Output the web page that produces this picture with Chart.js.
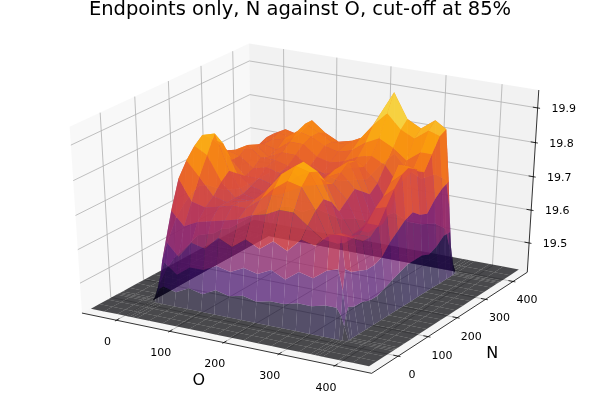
<!DOCTYPE html>
<html><head><meta charset="utf-8">
<script src="https://cdn.jsdelivr.net/npm/chart.js@4.4.1/dist/chart.umd.min.js"></script>
<style>html,body{margin:0;padding:0;background:#fff}#wrap{width:600px;height:400px;position:relative}</style>
</head><body><div id="wrap"><canvas id="c"></canvas></div>
<script>
const TITLE = 'Endpoints only, N against O, cut-off at 85%';
const X_LABEL = 'O';
const Y_LABEL = 'N';
const O_TICKS = [0, 100, 200, 300, 400];
const N_TICKS = [0, 100, 200, 300, 400];
const Z_TICKS = [19.5, 19.6, 19.7, 19.8, 19.9];

// grid positions (O = x, N = y)
const O_VALUES = [-55, -30, -5, 10, 18, 24, 32, 55, 80, 105, 130, 155, 180, 205, 230, 255, 280, 305, 330, 350, 358, 364, 372, 400, 425, 454];
const N_VALUES = [-75, -50, -25, 2, 8, 13, 20, 40, 65, 90, 115, 140, 165, 190, 215, 240, 265, 290, 315, 340, 362, 368, 373, 380, 410, 442];
const F = 19.42; // cut-off floor value
// Z_ROWS[j][i] : value at N_VALUES[j], O_VALUES[i]
const Z_ROWS = [
  [F,F,F,F, F,F, F,F,F,F,F,F,F,F,F,F,F,F,F,F, F,F, F,F,F,F],
  [F,F,F,F, F,F, F,F,F,F,F,F,F,F,F,F,F,F,F,F, F,F, F,F,F,F],
  [F,F,F,F, F,F, F,F,F,F,F,F,F,F,F,F,F,F,F,F, F,F, F,F,F,F],
  [F,F,F,F, F,F, F,F,F,F,F,F,F,F,F,F,F,F,F,F, F,F, F,F,F,F],
  [F,F,F,F, 19.44,19.46, 19.47,19.46,19.48,19.47,19.49,19.48,19.49,19.48,19.49,19.49,19.50,19.50,19.51,19.51, 19.49,19.46, F,F,F,F],
  [F,F,F,F, 19.46,19.50, 19.54,19.51,19.54,19.54,19.56,19.55,19.57,19.56,19.58,19.56,19.59,19.58,19.61,19.62, 19.56,19.49, F,F,F,F],
  [F,F,F,F, 19.47,19.54, 19.60,19.56,19.61,19.60,19.64,19.62,19.65,19.63,19.66,19.64,19.68,19.67,19.71,19.72, 19.62,19.51, F,F,F,F],
  [F,F,F,F, 19.50,19.59, 19.68,19.64,19.66,19.67,19.68,19.69,19.71,19.72,19.74,19.74,19.71,19.68,19.70,19.70, 19.60,19.50, F,F,F,F],
  [F,F,F,F, 19.52,19.64, 19.76,19.70,19.69,19.70,19.71,19.71,19.74,19.78,19.81,19.80,19.74,19.66,19.69,19.68, 19.59,19.50, F,F,F,F],
  [F,F,F,F, 19.53,19.67, 19.80,19.76,19.71,19.70,19.71,19.72,19.76,19.81,19.84,19.83,19.76,19.64,19.67,19.66, 19.58,19.49, F,F,F,F],
  [F,F,F,F, 19.54,19.69, 19.83,19.81,19.74,19.70,19.70,19.72,19.76,19.81,19.84,19.82,19.74,19.63,19.66,19.66, 19.58,19.49, F,F,F,F],
  [F,F,F,F, 19.55,19.70, 19.85,19.86,19.76,19.70,19.69,19.71,19.74,19.78,19.80,19.78,19.70,19.64,19.68,19.68, 19.59,19.50, F,F,F,F],
  [F,F,F,F, 19.54,19.69, 19.83,19.82,19.74,19.71,19.70,19.70,19.72,19.74,19.75,19.76,19.72,19.64,19.71,19.72, 19.62,19.51, F,F,F,F],
  [F,F,F,F, 19.53,19.67, 19.80,19.76,19.72,19.72,19.71,19.70,19.72,19.74,19.76,19.78,19.74,19.62,19.73,19.76, 19.64,19.52, F,F,F,F],
  [F,F,F,F, 19.53,19.65, 19.77,19.76,19.73,19.74,19.73,19.72,19.72,19.73,19.77,19.80,19.72,19.62,19.76,19.79, 19.66,19.53, F,F,F,F],
  [F,F,F,F, 19.52,19.64, 19.76,19.78,19.75,19.75,19.74,19.72,19.71,19.72,19.77,19.79,19.70,19.62,19.80,19.80, 19.67,19.53, F,F,F,F],
  [F,F,F,F, 19.52,19.63, 19.75,19.77,19.74,19.76,19.76,19.73,19.72,19.73,19.75,19.76,19.72,19.65,19.78,19.78, 19.65,19.53, F,F,F,F],
  [F,F,F,F, 19.52,19.63, 19.74,19.76,19.75,19.78,19.78,19.75,19.74,19.75,19.77,19.78,19.76,19.71,19.76,19.76, 19.64,19.52, F,F,F,F],
  [F,F,F,F, 19.52,19.63, 19.74,19.76,19.77,19.80,19.79,19.77,19.76,19.77,19.80,19.82,19.80,19.77,19.80,19.80, 19.67,19.53, F,F,F,F],
  [F,F,F,F, 19.52,19.63, 19.75,19.77,19.76,19.81,19.79,19.77,19.77,19.79,19.84,19.88,19.84,19.82,19.85,19.84, 19.69,19.55, F,F,F,F],
  [F,F,F,F, 19.52,19.63, 19.75,19.77,19.76,19.81,19.78,19.76,19.77,19.79,19.86,19.93,19.86,19.84,19.87,19.85, 19.70,19.55, F,F,F,F],
  [F,F,F,F, 19.48,19.56, 19.63,19.65,19.64,19.67,19.65,19.64,19.65,19.66,19.71,19.75,19.71,19.69,19.71,19.70, 19.62,19.50, F,F,F,F],
  [F,F,F,F, 19.45,19.48, 19.52,19.53,19.52,19.54,19.53,19.52,19.53,19.53,19.55,19.57,19.55,19.55,19.56,19.55, 19.50,19.46, F,F,F,F],
  [F,F,F,F, F,F, F,F,F,F,F,F,F,F,F,F,F,F,F,F, F,F, F,F,F,F],
  [F,F,F,F, F,F, F,F,F,F,F,F,F,F,F,F,F,F,F,F, F,F, F,F,F,F],
  [F,F,F,F, F,F, F,F,F,F,F,F,F,F,F,F,F,F,F,F, F,F, F,F,F,F]
];

const X_LIM = [-55, 454];
const Y_LIM = [-75, 442];
const Z_LIM = [19.42, 19.94];

// ---- view (matplotlib-like: elev 30, azim -60, perspective) ----
const EL = 30 * Math.PI / 180, AZ = -60 * Math.PI / 180, DIST = 10;
const E = [Math.cos(EL) * Math.cos(AZ), Math.cos(EL) * Math.sin(AZ), Math.sin(EL)];
const un = Math.hypot(E[0], E[1]);
const U = [-E[1] / un, E[0] / un, 0];
const V = [E[1] * U[2] - E[2] * U[1], E[2] * U[0] - E[0] * U[2], E[0] * U[1] - E[1] * U[0]];
function dot(a, b) { return a[0] * b[0] + a[1] * b[1] + a[2] * b[2]; }
function project(x, y, z) {
  const b = [(x - X_LIM[0]) / (X_LIM[1] - X_LIM[0]) - 0.5,
             (y - Y_LIM[0]) / (Y_LIM[1] - Y_LIM[0]) - 0.5,
             (z - Z_LIM[0]) / (Z_LIM[1] - Z_LIM[0]) - 0.5];
  const u = dot(U, b), v = dot(V, b), w = dot(E, b);
  return { x: u / (DIST - w), y: v / (DIST - w), w: w };
}
const dX = (X_LIM[1] - X_LIM[0]), dY = (Y_LIM[1] - Y_LIM[0]), dZ = (Z_LIM[1] - Z_LIM[0]);
const XB = [X_LIM[0] - dX / 48, X_LIM[1] + dX / 48];
const YB = [Y_LIM[0] - dY / 48, Y_LIM[1] + dY / 48];
const ZB = [Z_LIM[0] - dZ / 48, Z_LIM[1] + dZ / 48];

// ---- colormap (inferno) ----
const INFERNO = ['#000004','#160b39','#420a68','#6a176e','#932667','#bc3754','#dd513a','#f37819','#fca50a','#f6d746','#fcffa4'];
function hex(c) { return [parseInt(c.substr(1,2),16), parseInt(c.substr(3,2),16), parseInt(c.substr(5,2),16)]; }
const INF_RGB = INFERNO.map(hex);
function inferno(t, a) {
  t = Math.max(0, Math.min(1, t));
  const s = t * (INF_RGB.length - 1), i = Math.min(INF_RGB.length - 2, Math.floor(s)), f = s - i;
  const c0 = INF_RGB[i], c1 = INF_RGB[i + 1];
  return 'rgba(' + Math.round(c0[0] + (c1[0] - c0[0]) * f) + ',' + Math.round(c0[1] + (c1[1] - c0[1]) * f) + ',' + Math.round(c0[2] + (c1[2] - c0[2]) * f) + ',' + a + ')';
}
function surfAlpha(t) { return t < 0.3 ? 0.7 : (t > 0.55 ? 0.92 : 0.7 + (t - 0.3) / 0.25 * 0.22); }

// ---- line datasets: gridlines, axis lines, tick marks ----
const GRID_COLOR = '#b0b0b0';
const datasets = [];
function lineDS(pts, color, width) {
  datasets.push({ data: pts.map(p => { const q = project(p[0], p[1], p[2]); return { x: q.x, y: q.y }; }),
    showLine: true, borderColor: color, borderWidth: width, pointRadius: 0, pointHoverRadius: 0, fill: false, tension: 0 });
}
lineDS([[XB[0], YB[0], ZB[0]], [XB[1], YB[0], ZB[0]]], '#000', 0.8);
lineDS([[XB[1], YB[0], ZB[0]], [XB[1], YB[1], ZB[0]]], '#000', 0.8);
lineDS([[XB[1], YB[1], ZB[0]], [XB[1], YB[1], ZB[1]]], '#000', 0.8);
O_TICKS.forEach(t => lineDS([[t, YB[0] + 0.2 * dY / 12, ZB[0]], [t, YB[0] - 0.1 * dY / 12, ZB[0]]], '#000', 0.8));
N_TICKS.forEach(t => lineDS([[XB[1] - 0.2 * dX / 12, t, ZB[0]], [XB[1] + 0.1 * dX / 12, t, ZB[0]]], '#000', 0.8));
Z_TICKS.forEach(t => lineDS([[XB[1] - 0.2 * dX / 12, YB[1], t], [XB[1] + 0.1 * dX / 12, YB[1], t]], '#000', 0.8));
O_TICKS.forEach(t => lineDS([[t, YB[0], ZB[0]], [t, YB[1], ZB[0]], [t, YB[1], ZB[1]]], GRID_COLOR, 0.8));
N_TICKS.forEach(t => lineDS([[XB[1], t, ZB[0]], [XB[0], t, ZB[0]], [XB[0], t, ZB[1]]], GRID_COLOR, 0.8));
Z_TICKS.forEach(t => lineDS([[XB[0], YB[0], t], [XB[0], YB[1], t], [XB[1], YB[1], t]], GRID_COLOR, 0.8));

// ---- surface quads ----
const zMin = Math.min(...Z_ROWS.map(r => Math.min(...r)));
const zMax = Math.max(...Z_ROWS.map(r => Math.max(...r)));
const quads = [];
for (let j = 0; j < N_VALUES.length - 1; j++) {
  for (let i = 0; i < O_VALUES.length - 1; i++) {
    const c = [[O_VALUES[i], N_VALUES[j], Z_ROWS[j][i]], [O_VALUES[i + 1], N_VALUES[j], Z_ROWS[j][i + 1]],
               [O_VALUES[i + 1], N_VALUES[j + 1], Z_ROWS[j + 1][i + 1]], [O_VALUES[i], N_VALUES[j + 1], Z_ROWS[j + 1][i]]];
    const p = c.map(v => project(v[0], v[1], v[2]));
    const zAvg = (c[0][2] + c[1][2] + c[2][2] + c[3][2]) / 4;
    const t = (zAvg - zMin) / (zMax - zMin);
    const depth = (p[0].w + p[1].w + p[2].w + p[3].w) / 4;
    quads.push({ p, color: inferno(t, surfAlpha(t)), depth });
  }
}
quads.sort((a, b) => a.depth - b.depth);

const panes = [
  { c: [[XB[0], YB[0], ZB[0]], [XB[0], YB[1], ZB[0]], [XB[0], YB[1], ZB[1]], [XB[0], YB[0], ZB[1]]], color: 'rgba(242,242,242,0.5)' },
  { c: [[XB[0], YB[1], ZB[0]], [XB[1], YB[1], ZB[0]], [XB[1], YB[1], ZB[1]], [XB[0], YB[1], ZB[1]]], color: 'rgba(230,230,230,0.5)' },
  { c: [[XB[0], YB[0], ZB[0]], [XB[1], YB[0], ZB[0]], [XB[1], YB[1], ZB[0]], [XB[0], YB[1], ZB[0]]], color: 'rgba(236,236,236,0.5)' }
];

function px(chart, q) { return [chart.scales.x.getPixelForValue(q.x), chart.scales.y.getPixelForValue(q.y)]; }
function poly(ctx, chart, pts, color) {
  ctx.beginPath();
  pts.forEach((q, k) => { const a = px(chart, q); if (k) ctx.lineTo(a[0], a[1]); else ctx.moveTo(a[0], a[1]); });
  ctx.closePath();
  ctx.fillStyle = color;
  ctx.fill();
}
function text(ctx, s, x, y, size) {
  ctx.font = size + 'px "DejaVu Sans"';
  ctx.fillStyle = '#000';
  ctx.textAlign = 'center';
  ctx.textBaseline = 'middle';
  ctx.fillText(s, x, y);
}

const surfacePlugin = {
  id: 'surface3d',
  beforeDatasetsDraw(chart) {
    const ctx = chart.ctx;
    ctx.save();
    panes.forEach(pn => poly(ctx, chart, pn.c.map(v => project(v[0], v[1], v[2])), pn.color));
    ctx.restore();
  },
  afterDatasetsDraw(chart) {
    const ctx = chart.ctx;
    ctx.save();
    quads.forEach(q => poly(ctx, chart, q.p, q.color));
    O_TICKS.forEach(t => { const a = px(chart, project(t, YB[0], ZB[0])); text(ctx, String(t), a[0] - 9, a[1] + 22, 11); });
    N_TICKS.forEach(t => { const a = px(chart, project(XB[1], t, ZB[0])); text(ctx, String(t), a[0] + 14, a[1] + 19, 11); });
    Z_TICKS.forEach(t => { const a = px(chart, project(XB[1], YB[1], t)); text(ctx, t.toFixed(1), a[0] + 26, a[1] + 1, 11); });
    let a = px(chart, project(200, YB[0], ZB[0]));
    text(ctx, X_LABEL, a[0] - 25, a[1] + 38, 16);
    a = px(chart, project(XB[1], 200, ZB[0]));
    text(ctx, Y_LABEL, a[0] + 35, a[1] + 36, 16);
    text(ctx, TITLE, chart.width / 2, 10, 19.5);
    ctx.restore();
  }
};

new Chart(document.getElementById('c'), {
  type: 'scatter',
  data: { datasets },
  options: {
    responsive: true, maintainAspectRatio: false, animation: false, events: [],
    layout: { padding: 0 },
    plugins: { legend: { display: false }, tooltip: { enabled: false } },
    scales: {
      x: { type: 'linear', display: false, min: -0.09601, max: 0.09090 },
      y: { type: 'linear', display: false, min: -0.09672, max: 0.09927 }
    }
  },
  plugins: [surfacePlugin]
});
</script>
</body></html>
